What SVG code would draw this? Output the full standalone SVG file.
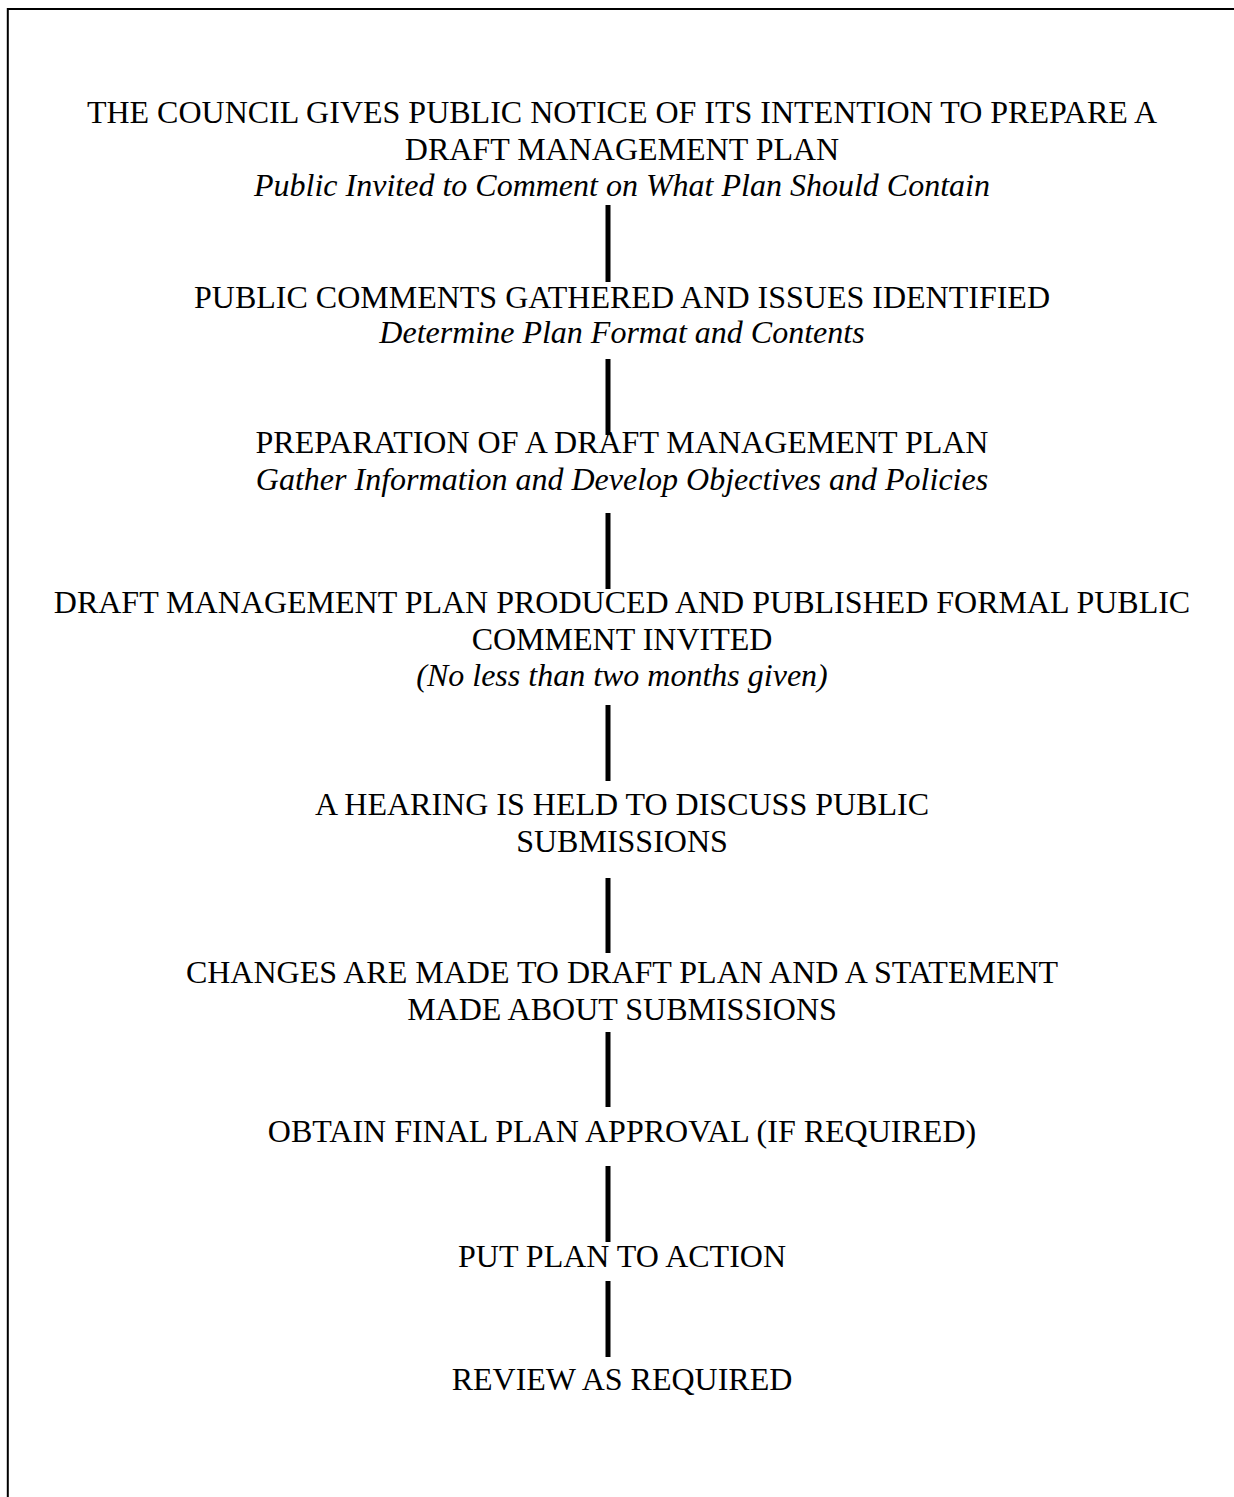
<svg xmlns="http://www.w3.org/2000/svg" width="1234" height="1497" viewBox="0 0 1234 1497">
<style>
text{font-family:"Liberation Serif","Times New Roman",serif;font-size:32px;fill:#000;text-anchor:middle}
.i{font-style:italic}
.c line{stroke:#000;stroke-width:5}
</style>
<rect width="1234" height="1497" fill="#fff"/>
<path d="M7.8,1497 V9 H1234" fill="none" stroke="#000" stroke-width="2"/>
<g class="c" id="connectors">
<line x1="608" y1="205" x2="608" y2="282"/>
<line x1="608" y1="359" x2="608" y2="435"/>
<line x1="608" y1="513" x2="608" y2="589"/>
<line x1="608" y1="705" x2="608" y2="781"/>
<line x1="608" y1="878" x2="608" y2="953"/>
<line x1="608" y1="1032" x2="608" y2="1107"/>
<line x1="608" y1="1166" x2="608" y2="1242"/>
<line x1="608" y1="1281" x2="608" y2="1357"/>
</g>
<g id="n1"><text x="622" y="123">THE COUNCIL GIVES PUBLIC NOTICE OF ITS INTENTION TO PREPARE A</text><text x="622" y="160">DRAFT MANAGEMENT PLAN</text><text class="i" x="622" y="196">Public Invited to Comment on What Plan Should Contain</text></g>
<g id="n2"><text x="622" y="308">PUBLIC COMMENTS GATHERED AND ISSUES IDENTIFIED</text><text class="i" x="622" y="343">Determine Plan Format and Contents</text></g>
<g id="n3"><text x="622" y="453">PREPARATION OF A DRAFT MANAGEMENT PLAN</text><text class="i" x="622" y="490">Gather Information and Develop Objectives and Policies</text></g>
<g id="n4"><text x="622" y="613">DRAFT MANAGEMENT PLAN PRODUCED AND PUBLISHED FORMAL PUBLIC</text><text x="622" y="650">COMMENT INVITED</text><text class="i" x="622" y="686">(No less than two months given)</text></g>
<g id="n5"><text x="622" y="815">A HEARING IS HELD TO DISCUSS PUBLIC</text><text x="622" y="852">SUBMISSIONS</text></g>
<g id="n6"><text x="622" y="983">CHANGES ARE MADE TO DRAFT PLAN AND A STATEMENT</text><text x="622" y="1020">MADE ABOUT SUBMISSIONS</text></g>
<g id="n7"><text x="622" y="1142">OBTAIN FINAL PLAN APPROVAL (IF REQUIRED)</text></g>
<g id="n8"><text x="622" y="1267">PUT PLAN TO ACTION</text></g>
<g id="n9"><text x="622" y="1390">REVIEW AS REQUIRED</text></g>
</svg>
